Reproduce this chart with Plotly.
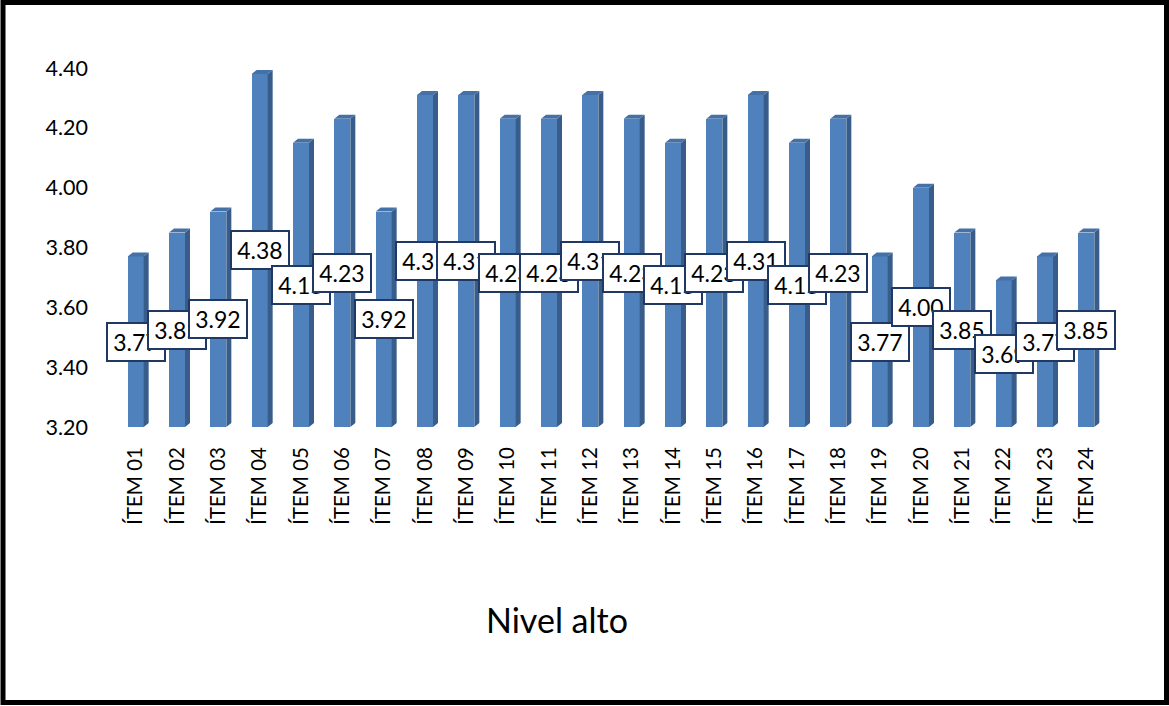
import plotly.graph_objects as go

# Data
items = [f"ÍTEM {i:02d}" for i in range(1, 25)]
scores = [3.77, 3.85, 3.92, 4.38, 4.15, 4.23, 3.92, 4.31, 4.31, 4.23, 4.23, 4.31,
          4.23, 4.15, 4.23, 4.31, 4.15, 4.23, 3.77, 4.00, 3.85, 3.69, 3.77, 3.85]
y_ticks = [3.20, 3.40, 3.60, 3.80, 4.00, 4.20, 4.40]
base = 3.20
title_text = "Nivel alto"

W, H = 1169, 706
ML, MR, MT, MB = 115, 62, 68, 279
plot_w = W - ML - MR
plot_h = H - MT - MB
y_min, y_max = 3.20, 4.40

# pixel -> data conversions for the pseudo-3D faces
px_x = len(items) / plot_w
px_y = (y_max - y_min) / plot_h
bar_w = 16 * px_x
dx = 5 * px_x
dy = 4 * px_y

FRONT = "#4F81BD"
SIDE = "#385D8A"
TOP = "#4471A8"
FONT = "Lato, Calibri, Carlito, sans-serif"

xs = list(range(len(items)))
fig = go.Figure()

fig.add_trace(go.Bar(
    x=xs, y=[v - base for v in scores], base=base, width=bar_w,
    marker=dict(color=FRONT, line=dict(width=0)), hoverinfo="skip",
))

# side and top faces of each bar
for x, v in zip(xs, scores):
    r = x + bar_w / 2
    l = x - bar_w / 2
    fig.add_trace(go.Scatter(
        x=[r, r + dx, r + dx, r, r], y=[base, base + dy, v + dy, v, base],
        mode="lines", fill="toself", fillcolor=SIDE, line=dict(width=0),
        hoverinfo="skip", showlegend=False, cliponaxis=False,
    ))
    fig.add_trace(go.Scatter(
        x=[l, l + dx, r + dx, r, l], y=[v, v + dy, v + dy, v, v],
        mode="lines", fill="toself", fillcolor=TOP, line=dict(width=0),
        hoverinfo="skip", showlegend=False, cliponaxis=False,
    ))

# value labels in boxes at the middle of each bar
for x, v in zip(xs, scores):
    fig.add_annotation(
        x=x, y=(base + v) / 2, xref="x", yref="y", text=f"{v:.2f}",
        showarrow=False, bgcolor="white", bordercolor="#1F3864", borderwidth=2,
        borderpad=1, width=54, height=34,
        font=dict(family=FONT, size=23, color="#000000"),
    )

# axis title below the category labels
fig.add_annotation(
    x=(557 - ML) / plot_w, y=-(619 - MT - plot_h) / plot_h, xref="paper", yref="paper",
    xanchor="center", yanchor="middle",
    text=title_text, showarrow=False, font=dict(family=FONT, size=34, color="#000000"),
)

# chart border
fig.add_shape(
    type="rect", xref="paper", yref="paper", layer="above",
    x0=(3 - ML) / plot_w, x1=(1166.5 - ML) / plot_w,
    y0=-(H - 3.5 - MT - plot_h) / plot_h,
    y1=1 + (MT - 2.5) / plot_h,
    line=dict(color="black", width=5), fillcolor="rgba(0,0,0,0)",
)

fig.update_layout(
    width=W, height=H, margin=dict(l=ML, r=MR, t=MT, b=MB),
    paper_bgcolor="white", plot_bgcolor="white", showlegend=False,
    font=dict(family=FONT, color="#000000"),
    xaxis=dict(
        range=[-0.5, len(items) - 0.5], tickmode="array", tickvals=xs, ticktext=items,
        tickangle=-90, tickfont=dict(size=20.5), showgrid=False, zeroline=False,
        showline=False, ticks="", ticklabelstandoff=15,
    ),
    yaxis=dict(
        range=[y_min, y_max], tickmode="array", tickvals=y_ticks,
        ticktext=[f"{t:.2f}" for t in y_ticks], tickfont=dict(size=21.5),
        showgrid=False, zeroline=False, showline=False, ticks="", ticklabelstandoff=26,
    ),
    bargap=0,
)

fig.write_html("out.html")
